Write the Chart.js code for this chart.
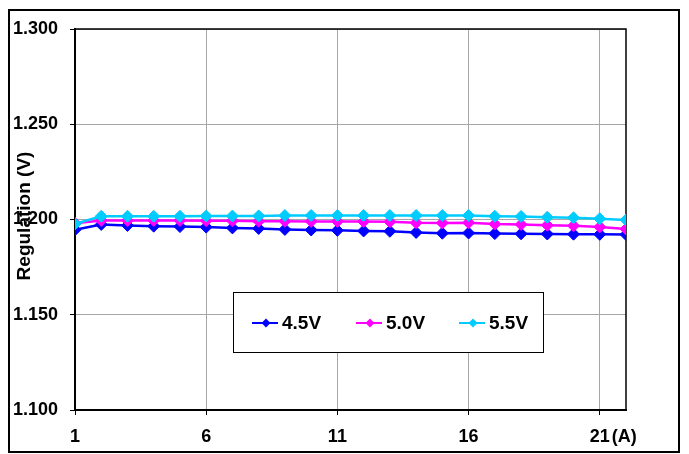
<!DOCTYPE html>
<html lang="en">
<head>
  <meta charset="UTF-8" />
  <title>Regulation vs current</title>
  <style>
    body { margin: 0; background: #fff; }
    canvas { display: block; }
  </style>
</head>
<body>
  <canvas id="regChart" width="689" height="454"></canvas>

  <script src="https://cdn.jsdelivr.net/npm/chart.js"></script>
  <script>
    // load current (A), 1..22
    const currents = [1, 2, 3, 4, 5, 6, 7, 8, 9, 10, 11, 12, 13, 14, 15, 16, 17, 18, 19, 20, 21, 22];
    const xTicks = [1, 6, 11, 16, 21];
    const yTicks = [1.100, 1.150, 1.200, 1.250, 1.300];

    const seriesNames = ['4.5V', '5.0V', '5.5V'];
    const seriesColors = ['#0000FF', '#FF00FF', '#00CCFF'];

    const v45 = [1.1946, 1.1974, 1.1969, 1.1965, 1.1963, 1.1960, 1.1956, 1.1953, 1.1948, 1.1945, 1.1943,
                 1.1940, 1.1938, 1.1932, 1.1928, 1.1929, 1.1926, 1.1925, 1.1924, 1.1923, 1.1922, 1.1921];
    const v50 = [1.1980, 1.1995, 1.1995, 1.1995, 1.1995, 1.1994, 1.1993, 1.1991, 1.1991, 1.1990, 1.1990,
                 1.1989, 1.1988, 1.1983, 1.1982, 1.1983, 1.1976, 1.1974, 1.1970, 1.1967, 1.1961, 1.1950];
    const v55 = [1.1977, 1.2017, 1.2017, 1.2017, 1.2017, 1.2018, 1.2018, 1.2019, 1.2021, 1.2021, 1.2021,
                 1.2021, 1.2021, 1.2021, 1.2021, 1.2021, 1.2017, 1.2016, 1.2012, 1.2009, 1.2004, 1.1998];

    const FAMILY = '"Liberation Sans", Arial, sans-serif';

    function toPoints(vals) {
      return vals.map((v, i) => ({ x: currents[i], y: v }));
    }

    function makeSet(i, vals) {
      return {
        label: seriesNames[i],
        data: toPoints(vals),
        borderColor: seriesColors[i],
        backgroundColor: seriesColors[i],
        borderWidth: 2.5,
        pointStyle: 'rectRot',
        pointRadius: 6,
        pointBorderWidth: 1,
        tension: 0,
        order: 3 - i
      };
    }

    // outer frame, plot frame, y title, "(A)" and the boxed legend
    const decorPlugin = {
      id: 'decor',
      beforeDraw(chart) {
        const ctx = chart.ctx;
        ctx.save();
        ctx.fillStyle = '#fff';
        ctx.fillRect(0, 0, chart.width, chart.height);
        ctx.strokeStyle = '#000';
        ctx.lineWidth = 2;
        ctx.strokeRect(9, 10, 670, 442);
        ctx.restore();
      },
      beforeDatasetsDraw(chart) {
        const a = chart.chartArea;
        const ctx = chart.ctx;
        ctx.save();
        ctx.strokeStyle = '#000';
        ctx.lineWidth = 1.5;
        ctx.beginPath();
        ctx.moveTo(a.left, a.top);
        ctx.lineTo(a.right, a.top);
        ctx.lineTo(a.right, a.bottom);
        ctx.stroke();
        ctx.restore();
      },
      afterDraw(chart) {
        const ctx = chart.ctx;
        const xs = chart.scales.x;
        ctx.save();
        ctx.fillStyle = '#000';

        // y axis title
        ctx.save();
        ctx.font = 'bold 19px ' + FAMILY;
        ctx.translate(25, 216);
        ctx.rotate(-Math.PI / 2);
        ctx.textAlign = 'center';
        ctx.textBaseline = 'middle';
        ctx.fillText('Regulation (V)', 0, 0);
        ctx.restore();

        // unit after last x label
        ctx.font = 'bold 18px ' + FAMILY;
        const x21 = xs.getPixelForValue(21);
        ctx.textAlign = 'left';
        ctx.textBaseline = 'middle';
        ctx.fillText('(A)', x21 + ctx.measureText('21').width / 2 + 2, 437);

        // legend box
        ctx.fillStyle = '#fff';
        ctx.fillRect(233, 292, 310, 60);
        ctx.strokeStyle = '#000';
        ctx.lineWidth = 1;
        ctx.strokeRect(233.5, 292.5, 310, 60);
        const lx = [252, 356, 459];
        const ly = 323;
        ctx.font = 'bold 19px ' + FAMILY;
        seriesNames.forEach((name, i) => {
          ctx.strokeStyle = seriesColors[i];
          ctx.fillStyle = seriesColors[i];
          ctx.lineWidth = 2;
          ctx.beginPath();
          ctx.moveTo(lx[i], ly);
          ctx.lineTo(lx[i] + 26, ly);
          ctx.stroke();
          const cx = lx[i] + 14, r = 4.5;
          ctx.beginPath();
          ctx.moveTo(cx - r, ly);
          ctx.lineTo(cx, ly - r);
          ctx.lineTo(cx + r, ly);
          ctx.lineTo(cx, ly + r);
          ctx.closePath();
          ctx.fill();
          ctx.fillStyle = '#000';
          ctx.textAlign = 'left';
          ctx.fillText(name, lx[i] + 30, ly + 1);
        });
        ctx.restore();
      }
    };

    const ctx = document.getElementById('regChart').getContext('2d');
    new Chart(ctx, {
      type: 'line',
      data: {
        datasets: [makeSet(0, v45), makeSet(1, v50), makeSet(2, v55)]
      },
      options: {
        responsive: false,
        animation: false,
        layout: { padding: { top: 29, right: 63, left: 0, bottom: 0 } },
        plugins: {
          legend: { display: false },
          tooltip: { enabled: false }
        },
        scales: {
          x: {
            type: 'linear',
            min: 1,
            max: 22,
            afterBuildTicks: (scale) => { scale.ticks = xTicks.map(v => ({ value: v })); },
            afterFit: (scale) => { scale.height = 44; },
            grid: { color: '#a6a6a6', lineWidth: 1, tickColor: '#000', tickLength: 5 },
            border: { color: '#000', width: 2 },
            ticks: {
              autoSkip: false,
              maxRotation: 0,
              padding: 11,
              color: '#000',
              font: { family: FAMILY, size: 18, weight: 'bold' },
              callback: (v) => String(v)
            }
          },
          y: {
            min: 1.1,
            max: 1.3,
            afterBuildTicks: (scale) => { scale.ticks = yTicks.map(v => ({ value: v })); },
            afterFit: (scale) => { scale.width = 75; },
            grid: { color: '#a6a6a6', lineWidth: 1, tickColor: '#000', tickLength: 5 },
            border: { color: '#000', width: 2 },
            ticks: {
              padding: 12,
              color: '#000',
              font: { family: FAMILY, size: 18, weight: 'bold' },
              callback: (v) => v.toFixed(3)
            }
          }
        }
      },
      plugins: [decorPlugin]
    });
  </script>
</body>
</html>
